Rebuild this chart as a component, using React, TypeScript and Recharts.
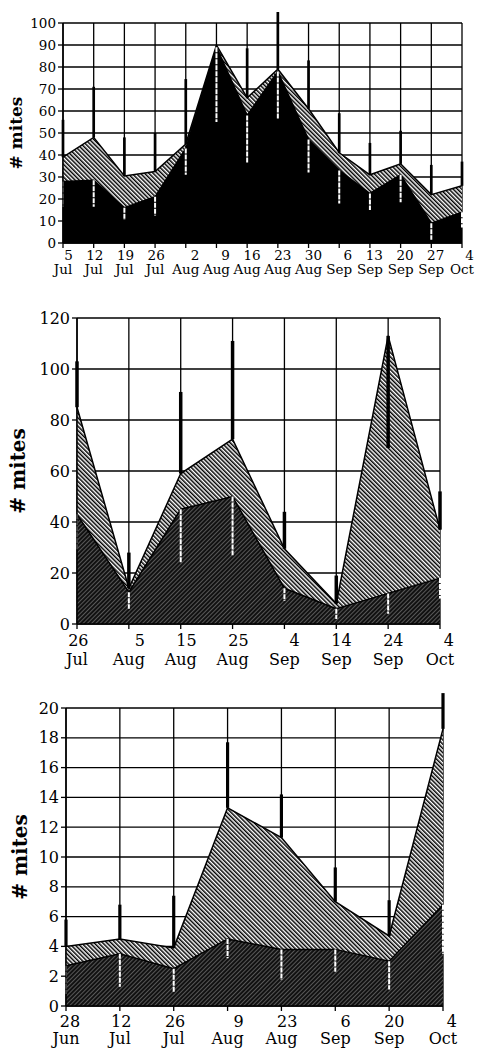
import React from "react";
import { ComposedChart, Area, XAxis, YAxis, CartesianGrid, ReferenceLine } from "recharts";

// panel 1
const p1Dates = ["5 Jul", "12 Jul", "19 Jul", "26 Jul", "2 Aug", "9 Aug", "16 Aug", "23 Aug", "30 Aug", "6 Sep", "13 Sep", "20 Sep", "27 Sep", "4 Oct"];
const p1Total = [39, 48, 30.5, 32.5, 45, 90, 66, 79, 61, 41, 31, 36, 22, 26];
const p1Lower = [28, 28.5, 16, 21, 43, 89, 58, 78, 47, 33, 22.5, 31, 9, 14];
const p1BarTop = [56, 71, 48, 50, 74.5, 90, 88.5, 105, 83, 59, 45.5, 51, 35.5, 37];
const p1BarLow = [16.5, 16.5, 10.5, 12.5, 31, 55, 36.5, 56.5, 32, 18, 15, 18.5, 1.5, 7];
const p1Ticks = [0, 10, 20, 30, 40, 50, 60, 70, 80, 90, 100];

// panel 2
const p2Dates = ["26 Jul", "5 Aug", "15 Aug", "25 Aug", "4 Sep", "14 Sep", "24 Sep", "4 Oct"];
const p2Total = [85, 14, 59, 72.5, 29.5, 8, 113, 37];
const p2Lower = [43, 12.5, 45, 50, 14, 6, 12, 18];
const p2BarTop = [103, 28, 91, 111, 44, 19, 69, 52];
const p2BarLow = [29, 6, 24, 27, 9, 2, 4, 10];
const p2Ticks = [0, 20, 40, 60, 80, 100, 120];

// panel 3
const p3Dates = ["28 Jun", "12 Jul", "26 Jul", "9 Aug", "23 Aug", "6 Sep", "20 Sep", "4 Oct"];
const p3Total = [4, 4.5, 3.9, 13.3, 11.3, 7, 4.7, 18.6];
const p3Lower = [2.7, 3.5, 2.5, 4.5, 3.8, 3.8, 3, 6.8];
const p3BarTop = [5.8, 6.8, 7.4, 17.7, 14.2, 9.3, 7.1, 21];
const p3BarLow = [0.8, 1.3, 0.9, 3.2, 1.75, 2.3, 1.1, 3.5];
const p3Ticks = [0, 2, 4, 6, 8, 10, 12, 14, 16, 18, 20];

const FONT = "'DejaVu Serif', 'Liberation Serif', serif";

// rough half-widths of month names (in em) so the day number sits right-aligned over it
const MONTH_HALF: Record<string, number> = { Jun: 0.88, Jul: 0.72, Aug: 1.0, Sep: 0.96, Oct: 0.87 };

function makeTick(fontSize: number, dayDy: number, monDy: number) {
  return (props: any) => {
    const { x, y, payload } = props;
    const [day, mon] = String(payload.value).split(" ");
    const half = (MONTH_HALF[mon] ?? 0.9) * fontSize;
    return (
      <g transform={`translate(${x},${y})`}>
        <text x={half} y={dayDy} textAnchor="end" fontSize={fontSize} fontFamily={FONT} fill="#000">
          {day}
        </text>
        <text x={0} y={monDy} textAnchor="middle" fontSize={fontSize} fontFamily={FONT} fill="#000">
          {mon}
        </text>
      </g>
    );
  };
}

interface PanelProps {
  dates: string[];
  total: number[];
  lower: number[];
  barTop: number[];
  barLow: number[];
  ticks: number[];
  top: number;
  height: number;
  plotLeft: number;
  plotRight: number;
  plotTop: number;
  xAxisHeight: number;
  fontSize: number;
  dayDy: number;
  monDy: number;
  titleX: number;
  titleSize: number;
  lowerFill: string;
  barWidth: number;
}

function Panel(p: PanelProps) {
  const data = p.dates.map((d, i) => ({ date: d, total: p.total[i], lower: p.lower[i] }));
  const yMax = p.ticks[p.ticks.length - 1];
  const plotBottom = p.height - p.xAxisHeight;
  const titleY = (p.plotTop + plotBottom) / 2;

  return (
    <div style={{ position: "absolute", left: 0, top: p.top, width: 478, height: p.height }}>
      <ComposedChart
        width={478}
        height={p.height}
        data={data}
        margin={{ top: p.plotTop, right: 478 - p.plotRight, bottom: 0, left: 0 }}
      >
        <CartesianGrid stroke="#000" strokeWidth={1.3} />
        <XAxis
          dataKey="date"
          scale="point"
          interval={0}
          height={p.xAxisHeight}
          tickSize={5}
          tickMargin={2}
          axisLine={{ stroke: "#000", strokeWidth: 1.5 }}
          tickLine={{ stroke: "#000", strokeWidth: 1.3 }}
          tick={makeTick(p.fontSize, p.dayDy, p.monDy)}
        />
        <YAxis
          type="number"
          domain={[0, yMax]}
          ticks={p.ticks}
          interval={0}
          width={p.plotLeft}
          tickSize={5}
          tickMargin={2}
          axisLine={{ stroke: "#000", strokeWidth: 1.5 }}
          tickLine={{ stroke: "#000", strokeWidth: 1.3 }}
          tick={{ fill: "#000", fontSize: p.fontSize, fontFamily: FONT }}
        />
        <Area
          type="linear"
          dataKey="total"
          fill="url(#hatchLight)"
          fillOpacity={1}
          stroke="#000"
          strokeWidth={1.5}
          dot={false}
          activeDot={false}
          isAnimationActive={false}
        />
        <Area
          type="linear"
          dataKey="lower"
          fill={p.lowerFill}
          fillOpacity={1}
          stroke="#000"
          strokeWidth={1.5}
          dot={false}
          activeDot={false}
          isAnimationActive={false}
        />
        {p.dates.map((d, i) => (
          <ReferenceLine
            key={`up-${d}`}
            segment={[{ x: d, y: p.total[i] }, { x: d, y: p.barTop[i] }]}
            stroke="#000"
            strokeWidth={p.barWidth}
            ifOverflow="visible"
          />
        ))}
        {p.dates.map((d, i) => (
          <ReferenceLine
            key={`down-${d}`}
            segment={[{ x: d, y: p.lower[i] }, { x: d, y: p.barLow[i] }]}
            stroke="#fff"
            strokeWidth={2}
            strokeDasharray="5 1"
            ifOverflow="visible"
          />
        ))}
      </ComposedChart>
      <svg
        width={40}
        height={p.height}
        style={{ position: "absolute", left: 0, top: 0, pointerEvents: "none" }}
      >
        <text
          x={p.titleX}
          y={titleY}
          transform={`rotate(-90 ${p.titleX} ${titleY})`}
          textAnchor="middle"
          dominantBaseline="central"
          fontSize={p.titleSize}
          fontWeight="bold"
          fontFamily={FONT}
          fill="#000"
        >
          # mites
        </text>
      </svg>
    </div>
  );
}

export default function App() {
  return (
    <div style={{ position: "absolute", left: 0, top: 0, width: 478, height: 1049, background: "#fff" }}>
      <svg width={0} height={0} style={{ position: "absolute" }}>
        <defs>
          <pattern id="hatchLight" patternUnits="userSpaceOnUse" width={3} height={3} patternTransform="rotate(-45)">
            <rect width={3} height={3} fill="#fff" />
            <rect width={1.5} height={3} fill="#000" />
          </pattern>
          <pattern id="hatchDark" patternUnits="userSpaceOnUse" width={3} height={3} patternTransform="rotate(45)">
            <rect width={3} height={3} fill="#111" />
            <rect width={0.7} height={3} fill="#777" />
          </pattern>
        </defs>
      </svg>
      <Panel
        dates={p1Dates}
        total={p1Total}
        lower={p1Lower}
        barTop={p1BarTop}
        barLow={p1BarLow}
        ticks={p1Ticks}
        top={0}
        height={290}
        plotLeft={63}
        plotRight={462}
        plotTop={23}
        xAxisHeight={47}
        fontSize={13.5}
        dayDy={10}
        monDy={24}
        titleX={16}
        titleSize={17}
        lowerFill="#000"
        barWidth={2.7}
      />
      <Panel
        dates={p2Dates}
        total={p2Total}
        lower={p2Lower}
        barTop={p2BarTop}
        barLow={p2BarLow}
        ticks={p2Ticks}
        top={290}
        height={390}
        plotLeft={77}
        plotRight={440}
        plotTop={28}
        xAxisHeight={56}
        fontSize={16}
        dayDy={15}
        monDy={34}
        titleX={18}
        titleSize={20}
        lowerFill="url(#hatchDark)"
        barWidth={3.5}
      />
      <Panel
        dates={p3Dates}
        total={p3Total}
        lower={p3Lower}
        barTop={p3BarTop}
        barLow={p3BarLow}
        ticks={p3Ticks}
        top={680}
        height={369}
        plotLeft={66}
        plotRight={443}
        plotTop={28}
        xAxisHeight={43}
        fontSize={16}
        dayDy={14}
        monDy={31}
        titleX={20}
        titleSize={20}
        lowerFill="url(#hatchDark)"
        barWidth={3.2}
      />
    </div>
  );
}
